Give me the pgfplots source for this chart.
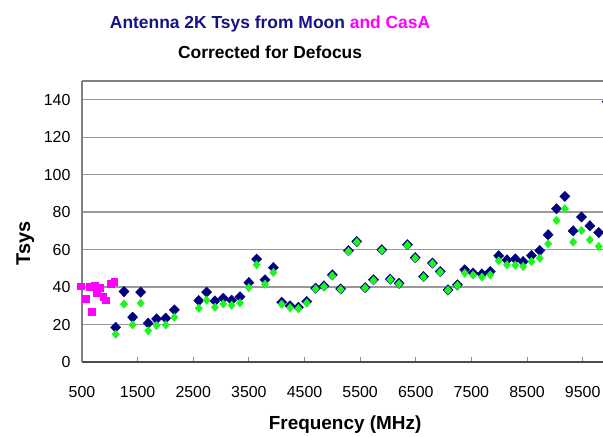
\documentclass[border=0pt]{standalone}
\usepackage{fontspec}
\setmainfont{Liberation Sans}
\usepackage{pgfplots}
\usepackage{pgfplotstable}
\pgfplotsset{compat=1.18}
\definecolor{navyb}{RGB}{0,0,128}
\definecolor{brgreen}{RGB}{30,245,30}
\definecolor{mag}{RGB}{255,0,255}
\definecolor{titlenavy}{RGB}{20,20,130}

\pgfplotstableread{
f tsys
1105 18.5
1255 37.6
1410 23.9
1555 37.3
1690 20.7
1840 23.0
2005 23.4
2160 27.8
2600 32.8
2740 37.3
2890 32.6
3040 34.0
3190 33.0
3340 34.8
3500 42.4
3640 54.9
3790 43.9
3940 50.4
4090 31.9
4240 30.0
4390 29.2
4540 32.3
4700 39.4
4850 40.6
5000 46.5
5150 39.0
5290 59.4
5440 64.3
5590 39.7
5740 43.9
5890 59.9
6040 44.2
6200 42.0
6350 62.6
6490 55.7
6640 45.6
6800 52.8
6940 48.3
7080 38.5
7250 41.2
7380 49.2
7530 47.5
7690 47.0
7840 48.3
7990 56.7
8140 54.5
8290 55.0
8430 53.6
8580 56.8
8730 59.5
8880 67.9
9030 81.8
9180 88.4
9330 70.0
9480 77.4
9630 72.7
9790 69.1
9940 139.0
}\moonraw

\pgfplotstableread{
f tsys
1105 14.8
1255 30.9
1410 19.8
1555 31.4
1690 16.7
1840 19.5
2005 19.8
2160 23.9
2600 28.7
2740 33.0
2890 29.2
3040 31.0
3190 30.3
3340 31.5
3500 39.7
3640 51.9
3790 41.5
3940 47.8
4090 30.8
4240 29.0
4390 28.5
4540 31.5
4700 39.0
4850 40.2
5000 46.0
5150 38.8
5290 59.0
5440 64.0
5590 39.5
5740 43.6
5890 59.6
6040 44.0
6200 41.7
6350 62.3
6490 55.4
6640 45.3
6800 52.5
6940 48.0
7080 38.3
7250 40.9
7380 47.4
7530 46.4
7690 45.3
7840 46.5
7990 54.0
8140 51.9
8290 51.7
8430 51.0
8580 53.6
8730 55.4
8880 63.1
9030 75.6
9180 81.8
9330 64.0
9480 70.2
9630 65.2
9790 61.7
9940 123.0
}\mooncorr

\pgfplotstableread{
f tsys
480 40.5
570 34.0
640 40.0
680 27.0
730 41.0
770 37.0
820 39.5
880 35.0
930 33.0
1020 42.0
1080 43.0
}\casa

\begin{document}
\begin{tikzpicture}
\useasboundingbox (0bp,0bp) rectangle (603bp,437bp);
\begin{axis}[
  at={(82bp,75bp)}, anchor=south west,
  scale only axis, width=521bp, height=281bp,
  xmin=500, xmax=9866, ymin=0, ymax=150,
  clip=false,
  axis x line=bottom, axis y line=left, axis line style={-},
  x axis line style={color=black!70, line width=1.3bp},
  y axis line style={color=black!50, line width=1.3bp},
  xtick={500,1500,...,9500}, ytick={0,20,...,140},
  ymajorgrids=true,
  y grid style={black!40, line width=1.3bp},
  tick align=inside,
  xtick style={black!45, line width=1bp, /pgfplots/major tick length=5bp},
  ytick style={/pgfplots/major tick length=0pt},
  ticklabel style={font=\fontsize{16}{18}\selectfont},
  /pgf/number format/assume math mode=true,
  /pgf/number format/set thousands separator={},
  xticklabel style={yshift=-21bp},
  yticklabel style={xshift=-8bp},
  xlabel={Frequency (MHz)},
  xlabel style={at={(axis description cs:0.505,-0.222)}, anchor=center, font=\bfseries\fontsize{19}{22}\selectfont},
  ylabel={Tsys},
  ylabel style={at={(axis description cs:-0.109,0.423)}, anchor=center, font=\bfseries\fontsize{20}{22}\selectfont},
  title={\textcolor{titlenavy}{Antenna 2K Tsys from Moon} \textcolor{mag}{and CasA}\\Corrected for Defocus},
  title style={at={(axis description cs:0.361,1.133)}, anchor=center, align=center, font=\bfseries\fontsize{17.5}{30}\selectfont},
]
\addplot[only marks, mark=diamond*, mark size=5.2bp, mark options={xscale=1.3, fill=navyb, draw=navyb}] table[x=f, y=tsys] {\moonraw};
\addplot[only marks, mark=diamond*, mark size=4.2bp, mark options={xscale=1.15, fill=brgreen, draw=brgreen}] table[x=f, y=tsys] {\mooncorr};
\addplot[only marks, mark=square*, mark size=3.4bp, mark options={fill=mag, draw=mag}] table[x=f, y=tsys] {\casa};
\draw[black!50, line width=2bp] (rel axis cs:0,1) -- (rel axis cs:1,1);
\end{axis}
\end{tikzpicture}
\end{document}
